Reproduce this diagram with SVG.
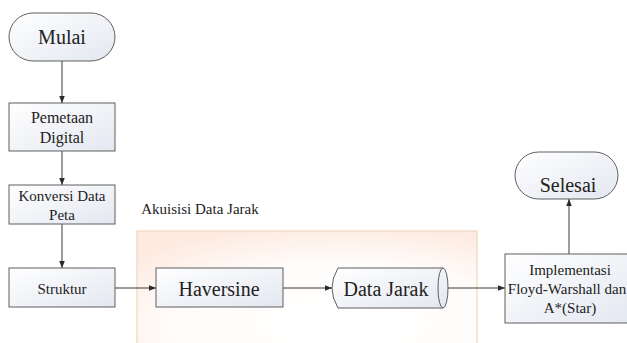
<svg xmlns="http://www.w3.org/2000/svg" width="627" height="343" viewBox="0 0 627 343">
  <style>
    .node { stroke: #5f5f5f; stroke-width: 1; fill: url(#boxFill); }
    text { font-family: 'Liberation Serif', 'Times New Roman', serif; fill: #222; text-anchor: middle; }
    .big { font-size: 20px; }
    .mid { font-size: 16px; }
    .sml { font-size: 15px; }
    .edge { stroke: #3a3a3a; stroke-width: 1; fill: none; marker-end: url(#arrow); }
  </style>
  <defs>
    <linearGradient id="boxFill" x1="0" y1="0" x2="1" y2="1">
      <stop offset="0" stop-color="#ffffff"/>
      <stop offset="1" stop-color="#e3e7f0"/>
    </linearGradient>
    <radialGradient id="zoneFill" cx="0.6" cy="0.75" r="0.8">
      <stop offset="0" stop-color="#ffffff"/>
      <stop offset="0.6" stop-color="#fffdfb"/>
      <stop offset="1" stop-color="#fdebe1"/>
    </radialGradient>
    <marker id="arrow" viewBox="0 0 10 10" refX="10" refY="5" markerWidth="7" markerHeight="7" orient="auto" markerUnits="userSpaceOnUse">
      <path d="M0,1 L10,5 L0,9 Z" fill="#2a2a2a"/>
    </marker>
  </defs>

  <rect width="627" height="343" fill="#ffffff"/>

  <!-- data acquisition zone -->
  <g id="zone">
    <rect x="137" y="231" width="340" height="125" fill="url(#zoneFill)" stroke="#f1d6bc" stroke-width="1.2"/>
    <text class="sml" x="200" y="214">Akuisisi Data Jarak</text>
  </g>

  <g id="connectors">
    <line class="edge" x1="62" y1="61" x2="62" y2="103"/>
    <line class="edge" x1="62" y1="151" x2="62" y2="185"/>
    <line class="edge" x1="62" y1="224" x2="62" y2="268"/>
    <line class="edge" x1="115" y1="288" x2="156" y2="288"/>
    <line class="edge" x1="283" y1="288" x2="332" y2="288"/>
    <line class="edge" x1="448" y1="288" x2="505" y2="288"/>
    <line class="edge" x1="569" y1="254" x2="569" y2="199"/>
  </g>

  <g id="mulai">
    <rect class="node" x="9" y="13" width="106" height="48" rx="24" ry="24"/>
    <text class="big" x="62" y="44">Mulai</text>
  </g>

  <g id="pemetaan">
    <rect class="node" x="9" y="103" width="106" height="48"/>
    <text class="mid" x="62" y="123">Pemetaan</text>
    <text class="mid" x="62" y="143">Digital</text>
  </g>

  <g id="konversi">
    <rect class="node" x="9" y="185" width="106" height="39"/>
    <text class="sml" x="62" y="201">Konversi Data</text>
    <text class="sml" x="62" y="220">Peta</text>
  </g>

  <g id="struktur">
    <rect class="node" x="9" y="268" width="106" height="39"/>
    <text class="sml" x="62" y="294">Struktur</text>
  </g>

  <g id="haversine">
    <rect class="node" x="156" y="268" width="127" height="39"/>
    <text class="big" x="219" y="296">Haversine</text>
  </g>

  <g id="data-jarak">
    <path class="node" d="M338,268 L443,268 A5,20 0 0 1 443,308 L338,308 Q326,288 338,268 Z"/>
    <path d="M443,268 A5,20 0 0 0 443,308" fill="none" stroke="#5f5f5f" stroke-width="1"/>
    <text class="big" x="386" y="296">Data Jarak</text>
  </g>

  <g id="implementasi">
    <rect class="node" x="505" y="254" width="130" height="69"/>
    <text class="sml" x="570" y="275">Implementasi</text>
    <text class="sml" x="567" y="294">Floyd-Warshall dan</text>
    <text class="sml" x="570" y="313">A*(Star)</text>
  </g>

  <g id="selesai">
    <rect class="node" x="515" y="152" width="103" height="47" rx="23.5" ry="23.5"/>
    <text class="big" x="568" y="192">Selesai</text>
  </g>
</svg>
